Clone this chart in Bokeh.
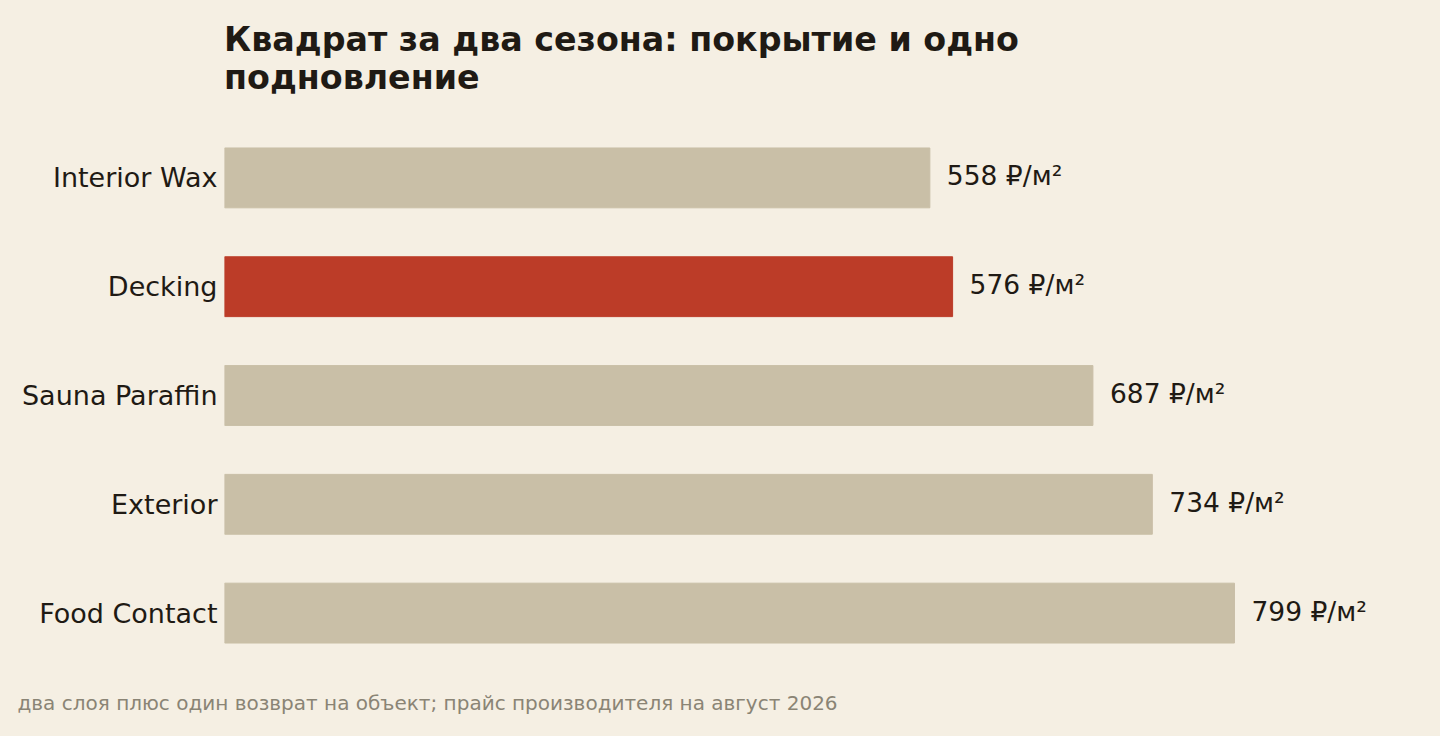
import numpy as np
from bokeh.plotting import figure
from bokeh.models import ColumnDataSource, Range1d, FactorRange, Title, Div
from bokeh.layouts import column
from bokeh.embed import file_html
from bokeh.resources import INLINE

## data ##

products = ["Interior Wax", "Decking", "Sauna Paraffin", "Exterior", "Food Contact"]
price = [558, 576, 687, 734, 799]
highlight = "Decking"

title_lines = ["Квадрат за два сезона: покрытие и одно", "подновление"]
note_text = "два слоя плюс один возврат на объект; прайс производителя на август 2026"

BG = "#F5EFE3"
INK = "#1F1A14"
BAR = "#C9BFA7"
RED = "#BC3C28"
FONT = "DejaVu Sans"


def build():
    colors = [RED if c == highlight else BAR for c in products]
    labels = ["%d ₽/м²" % v for v in price]
    source = ColumnDataSource(dict(cat=products, val=price, color=colors, label=labels))

    p = figure(width=1440, height=613, title=None,
               y_range=FactorRange(*products[::-1], range_padding=0),
               x_range=Range1d(0, 924),
               output_backend="svg", toolbar_location=None,
               min_border_left=224, min_border_right=48,
               min_border_top=0, min_border_bottom=68)

    p.background_fill_color = BG
    p.border_fill_color = BG
    p.outline_line_color = None
    p.grid.grid_line_color = None

    p.hbar(y="cat", right="val", left=0, height=0.55, color="color", source=source)
    # value labels sit just past the bar end
    p.text(x="val", y="cat", text="label", source=source, x_offset=17, y_offset=-2,
           text_baseline="middle", text_align="left", text_font_size="26.5px",
           text_color=INK, text_font={"value": FONT})

    p.xaxis.visible = False
    ax = p.yaxis[0]
    ax.axis_line_color = None
    ax.major_tick_line_color = None
    ax.minor_tick_line_color = None
    ax.major_tick_out = 0
    ax.major_tick_in = 0
    ax.major_label_standoff = 7
    ax.major_label_text_font = FONT
    ax.major_label_text_font_size = "27px"
    ax.major_label_text_color = INK

    note = Title(text=note_text, align="left", offset=-207, standoff=43,
                 text_font=FONT, text_font_size="20px",
                 text_font_style="normal", text_color="#8A8475")
    p.add_layout(note, "below")

    # two-line heading sits in its own strip above the plot
    head = Div(text="<br>".join(title_lines), width=1440, height=123, margin=0,
               styles={"font-family": FONT, "font-weight": "bold",
                       "font-size": "33.3px", "line-height": "38px",
                       "color": INK, "padding-left": "224px",
                       "padding-top": "21px", "box-sizing": "border-box",
                       "background": BG})
    return column(head, p, spacing=0)


p = build()
html = file_html(p, INLINE)
html = html.replace("<head>", "<head><style>html,body{background:%s;}</style>" % BG, 1)
open("out.html", "w").write(html)
